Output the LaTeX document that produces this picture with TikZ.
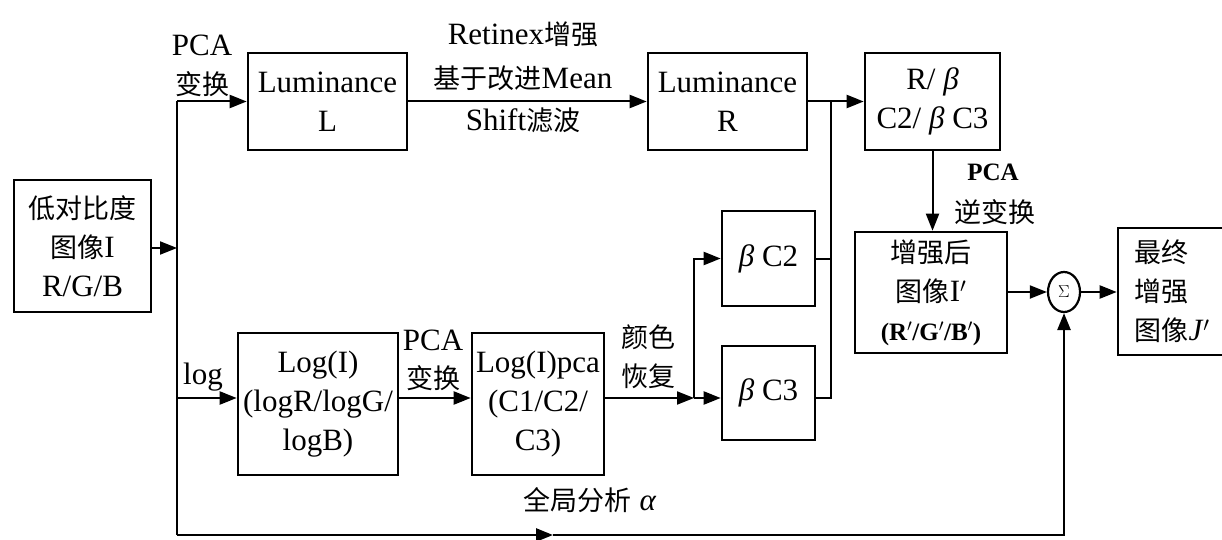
\documentclass[tikz,border=0pt]{standalone}
\usepackage{fontspec}
\setmainfont{Liberation Serif}
\newfontfamily\cjk{Noto Sans CJK SC}
\usetikzlibrary{arrows.meta,shapes.geometric}
\newcommand{\zh}[1]{{\cjk\fontsize{27}{38}\selectfont #1}}
\newcommand{\bet}{{\itshape β}}
\begin{document}
\begin{tikzpicture}[x=1pt,y=-1pt,
  font=\fontsize{31}{39}\selectfont,
  box/.style={draw,line width=2.6pt,inner sep=0pt,align=center},
  conn/.style={line width=2pt},
  arr/.style={conn,-{Triangle[length=17pt,width=13pt]}},
  lbl/.style={inner sep=0pt,align=center}]
\useasboundingbox (0,0) rectangle (1222,540);
% boxes
\node[box,minimum width=137pt,minimum height=132pt] (in) at (82.5,246) {\zh{低对比度}\\\zh{图像}I\\R/G/B};
\node[box,minimum width=159pt,minimum height=97pt] (L) at (327.5,101.5) {Luminance\\L};
\node[box,minimum width=159pt,minimum height=97pt] (R) at (727.5,101.5) {Luminance\\R};
\node[box,minimum width=135pt,minimum height=97pt] (RB) at (932.5,101.5) {R/ \bet\\C2/ \bet{} C3};
\node[box,minimum width=152pt,minimum height=121pt] (enh) at (931,292.5) {\zh{增强后}\\\zh{图像}I$'$\\{\fontsize{25}{30}\selectfont\bfseries (R$'$/G$'$/B$'$)}};
\node[box,minimum width=130pt,minimum height=127pt,text width=105pt,align=left] (fin) at (1183,291.5) {\hspace*{4pt}\zh{最终}\\\hspace*{4pt}\zh{增强}\\\hspace*{4pt}\zh{图像}\textit{J}$'$};
\node[box,minimum width=160pt,minimum height=142pt] (log) at (318,404) {Log(I)\\(logR/logG/\\logB)};
\node[box,minimum width=132pt,minimum height=142pt] (pca) at (538,404) {Log(I)pca\\(C1/C2/\\C3)};
\node[box,minimum width=93pt,minimum height=95pt] (c2) at (768.5,258.5) {\bet{} C2};
\node[box,minimum width=93pt,minimum height=94pt] (c3) at (768.5,393) {\bet{} C3};
\node[draw,line width=2.2pt,ellipse,minimum width=32pt,minimum height=40pt,inner sep=0pt] (sig) at (1064,292) {\fontsize{18}{18}\selectfont$\Sigma$};
% junction coordinates
\coordinate (jin) at (177,248);
\coordinate (jtop) at (177,101.5);
\coordinate (jlog) at (177,398);
\coordinate (jbot) at (177,535);
\coordinate (jbr) at (1064,535);
\coordinate (jmid) at (553,535);
\coordinate (jc) at (694,398);
\coordinate (jc2) at (694,258.5);
\coordinate (jr) at (831,101.5);
\coordinate (jr2) at (831,258.5);
\coordinate (jr3) at (831,398);
% connectors
\draw[arr] (in.east |- jin) -- (jin);
\draw[conn] (jbot) -- (jtop);
\draw[arr] (jtop) -- (L.west);
\draw[arr] (jlog) -- (jlog -| log.west);
\draw[arr,line width=2.6pt] (jbot) -- (jmid);
\draw[arr,line width=2.6pt] (jmid) -- (jbr) -- (sig.south);
\draw[arr] (L.east) -- (R.west);
\draw[arr] (R.east) -- (RB.west);
\draw[arr] (RB.south) -- (enh.north -| RB.south);
\draw[arr] (enh.east |- sig.west) -- (sig.west);
\draw[arr] (sig.east) -- (fin.west |- sig.east);
\draw[arr] (jlog -| log.east) -- (jlog -| pca.west);
\draw[arr] (jlog -| pca.east) -- (jc);
\draw[arr] (jc) -- (jc -| c3.west);
\draw[arr] (jc) -- (jc2) -- (c2.west);
\draw[conn] (c2.east) -- (jr2);
\draw[conn] (jr3 -| c3.east) -- (jr3) -- (jr);
% labels
\node[lbl] at (202,45) {PCA};
\node[lbl] at (202,84) {\zh{变换}};
\node[lbl] at (523,34) {Retinex\zh{增强}};
\node[lbl] at (523,78) {\zh{基于改进}Mean};
\node[lbl] at (523,120) {Shift\zh{滤波}};
\node[lbl] at (993,172) {\bfseries\fontsize{25}{30}\selectfont PCA};
\node[lbl] at (995,212) {\zh{逆变换}};
\node[lbl] at (203,377) {log};
\node[lbl] at (433,340) {PCA};
\node[lbl] at (433,378) {\zh{变换}};
\node[lbl] at (648,337) {\zh{颜色}};
\node[lbl] at (648,376) {\zh{恢复}};
\node[lbl] at (590,500) {\zh{全局分析} {\itshape α}};
\end{tikzpicture}
\end{document}
